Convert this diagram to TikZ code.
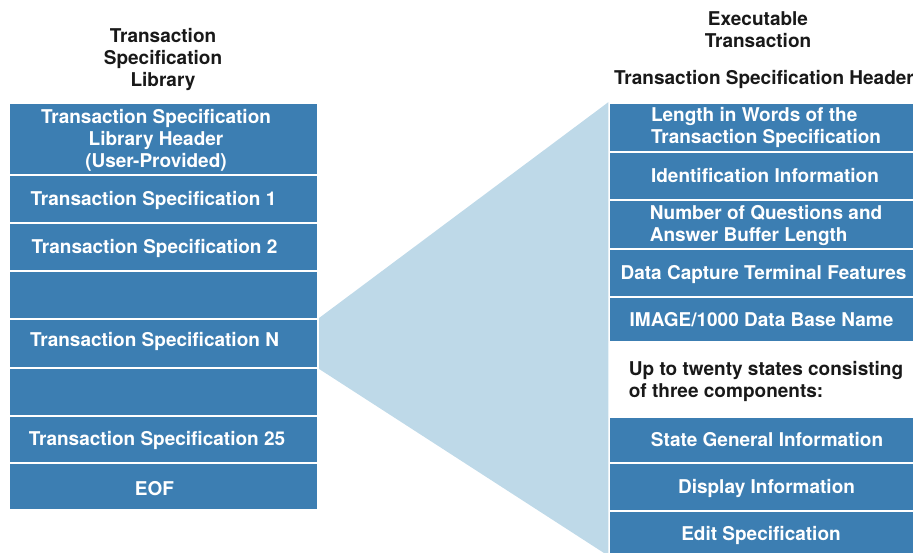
\documentclass[tikz,border=0pt]{standalone}
\usepackage{fontspec}
\setmainfont{TeX Gyre Heros}
\definecolor{boxblue}{RGB}{60,126,178}
\definecolor{fanblue}{RGB}{190,217,232}
\definecolor{ink}{RGB}{25,25,25}
\begin{document}
\begin{tikzpicture}[x=1pt,y=-1pt,
  font=\fontsize{19}{21.7}\selectfont\bfseries,
  lbox/.style={rectangle, fill=boxblue, draw=white, line width=1.5pt, minimum width=309pt, inner sep=0pt},
  rbox/.style={rectangle, fill=boxblue, draw=white, line width=1.5pt, minimum width=306pt, inner sep=0pt},
  wtxt/.style={text=white, align=center, inner sep=0pt},
  one/.style={text height=13.6pt, text depth=0pt},
  title/.style={text=ink, align=center, inner sep=0pt},
]
\useasboundingbox (0,0) rectangle (913,553);

% left column boxes
\node[lbox, minimum height=72pt] (hdr)  at (163.5,139)   {};
\node[lbox, minimum height=48pt] (ts1)  at (163.5,199)   {};
\node[lbox, minimum height=48pt] (ts2)  at (163.5,247)   {};
\node[lbox, minimum height=48pt] (lb1)  at (163.5,295)   {};
\node[lbox, minimum height=49pt] (tsn)  at (163.5,343.5) {};
\node[lbox, minimum height=48pt] (lb2)  at (163.5,392)   {};
\node[lbox, minimum height=47pt] (ts25) at (163.5,439.5) {};
\node[lbox, minimum height=47pt] (eof)  at (163.5,486.5) {};

% right column boxes
\node[rbox, minimum height=49pt] (r1) at (762,127.5) {};
\node[rbox, minimum height=48pt] (r2) at (762,176)   {};
\node[rbox, minimum height=49pt] (r3) at (762,224.5) {};
\node[rbox, minimum height=48pt] (r4) at (762,273)   {};
\node[rbox, minimum height=45pt] (r5) at (762,319.5) {};
\node[rbox, minimum height=46pt] (r6) at (762,440)   {};
\node[rbox, minimum height=48pt] (r7) at (762,487)   {};
\node[rbox, minimum height=44pt] (r8) at (762,533)   {};

% fan
\fill[fanblue] (tsn.north east) -- (r1.north west) -- (r8.south west) -- (tsn.south east) -- cycle;
\node[lbox, minimum height=49pt] (tsnb) at (tsn.center) {};

% left texts (yshift is in canvas direction: negative = down)
\node[wtxt] (thdr) at ([xshift=-7.5pt,yshift=-1.5pt]hdr.center) {Transaction Specification\\Library Header\\(User-Provided)};
\node[wtxt, one] (tts1) at ([xshift=-10pt]ts1.center) {Transaction Specification 1};
\node[wtxt, one] (tts2) at ([xshift=-9pt]ts2.center) {Transaction Specification 2};
\node[wtxt, one] (ttsn) at ([xshift=-9pt,yshift=3.5pt]tsn.center) {Transaction Specification N};
\node[wtxt, one] (tts25) at ([xshift=-6.5pt,yshift=1pt]ts25.center) {Transaction Specification 25};
\node[wtxt, one] (teof) at ([xshift=-9pt,yshift=-2pt]eof.center) {EOF};

% right texts
\node[wtxt, align=left] (tr1) at ([xshift=4pt]r1.center) {Length in Words of the\\Transaction Specification};
\node[wtxt, one] (tr2) at ([xshift=3pt]r2.center) {Identification Information};
\node[wtxt, align=left] (tr3) at ([xshift=4pt,yshift=-1pt]r3.center) {Number of Questions and\\Answer Buffer Length};
\node[wtxt, one] (tr4) at ([xshift=1.5pt]r4.center) {Data Capture Terminal Features};
\node[wtxt, one] (tr5) at ([xshift=-0.5pt]r5.center) {IMAGE/1000 Data Base Name};
\node[title, align=left] (note) at (766,381.5) {Up to twenty states consisting\\of three components:};
\node[wtxt, one] (tr6) at ([xshift=5pt]r6.center) {State General Information};
\node[wtxt, one] (tr7) at ([xshift=4.5pt]r7.center) {Display Information};
\node[wtxt, one] (tr8) at ([xshift=-1pt,yshift=-1pt]r8.center) {Edit Specification};

% titles
\node[title] (tl) at (163,59.5) {Transaction\\Specification\\Library};
\node[title] (tr) at (758,30) {Executable\\Transaction};
\node[title, one] (th) at (764,77.5) {Transaction Specification Header};
\end{tikzpicture}
\end{document}
